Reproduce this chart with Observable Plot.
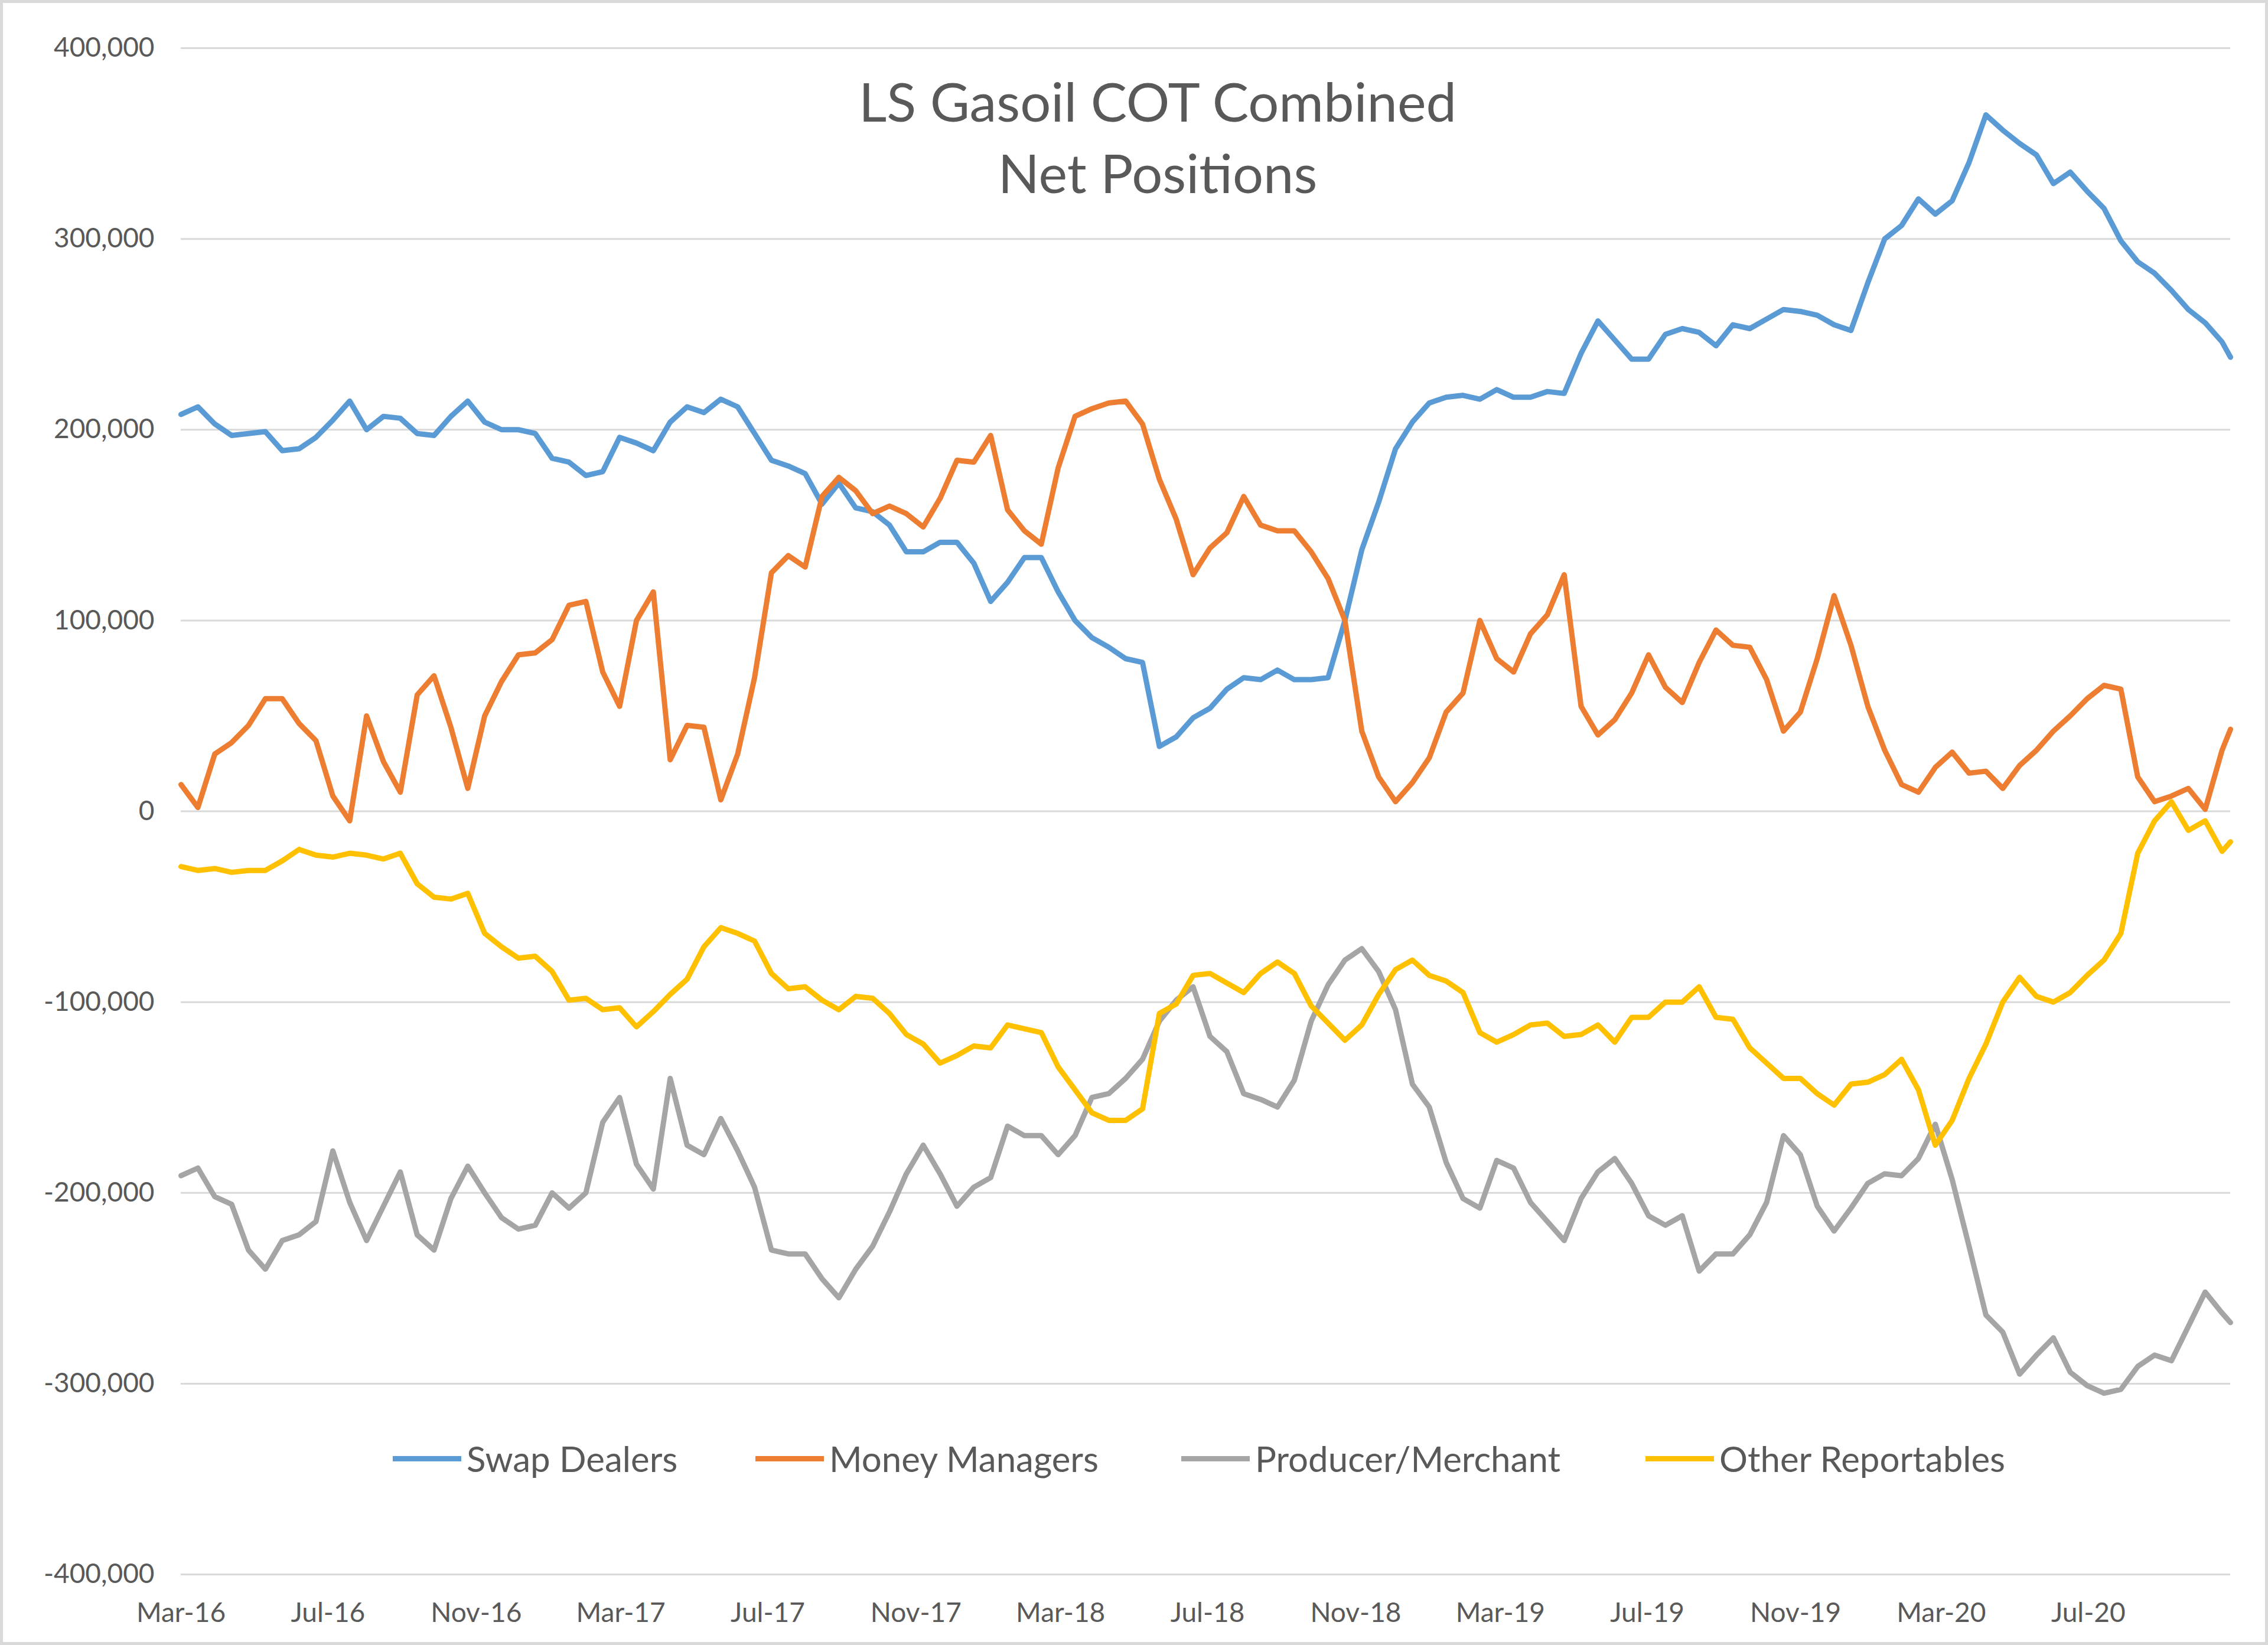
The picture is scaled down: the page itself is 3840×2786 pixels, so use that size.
<!DOCTYPE html>
<html>
<head>
<meta charset="utf-8">
<script src="https://cdn.jsdelivr.net/npm/d3@7"></script>
<script src="https://cdn.jsdelivr.net/npm/@observablehq/plot@0.6"></script>
<style>
html, body { margin: 0; padding: 0; background: #fff; }
#chart { position: relative; width: 3840px; height: 2786px; background: #fff; overflow: hidden; font-family: Lato, "Open Sans", sans-serif; color: #595959; }
#chart svg { position: absolute; left: 0; top: 0; }
#frame { position: absolute; left: 0; top: 0; width: 3840px; height: 2786px; box-sizing: border-box; border: 5px solid #d9d9d9; pointer-events: none; }
#title { position: absolute; left: 1960px; top: 110px; transform: translateX(-50%); font-size: 92px; line-height: 121px; text-align: center; white-space: nowrap; }
.legend-item { position: absolute; top: 2430px; height: 80px; display: flex; align-items: center; font-size: 60px; white-space: nowrap; }
.swatch { width: 116px; height: 9px; margin-right: 9px; }
</style>
</head>
<body>
<div id="chart">
  <div id="title">LS Gasoil COT Combined<br>Net Positions</div>
  <div id="frame"></div>
</div>
<script>
// ---- data (net positions, thousands of lots), bi-weekly report dates ----
const START = new Date(Date.UTC(2016, 2, 1));
const END = new Date(Date.UTC(2020, 9, 27));
const dates = d3.range(122).map(i => d3.utcDay.offset(START, 14 * i));
dates.push(END);

const seriesNames = ["Swap Dealers", "Money Managers", "Producer/Merchant", "Other Reportables"];
const seriesColors = ["#5B9BD5", "#ED7D31", "#A5A5A5", "#FFC000"];

const swapDealers = [
  208,212,203,197,198,199,189,190,196,205,
  215,200,207,206,198,197,207,215,204,200,
  200,198,185,183,176,178,196,193,189,204,
  212,209,216,212,198,184,181,177,161,172,
  159,157,150,136,136,141,141,130,110,120,
  133,133,115,100,91,86,80,78,34,39,
  49,54,64,70,69,74,69,69,70,100,
  137,162,190,204,214,217,218,216,221,217,
  217,220,219,240,257,247,237,237,250,253,
  251,244,255,253,258,263,262,260,255,252,
  277,300,307,321,313,320,340,365,357,350,
  344,329,335,325,316,299,288,282,273,263,
  256,246,238
];
const moneyManagers = [
  14,2,30,36,45,59,59,46,37,8,
  -5,50,26,10,61,71,44,12,50,68,
  82,83,90,108,110,73,55,100,115,27,
  45,44,6,30,70,125,134,128,165,175,
  168,156,160,156,149,164,184,183,197,158,
  147,140,180,207,211,214,215,203,174,153,
  124,138,146,165,150,147,147,136,122,100,
  42,18,5,15,28,52,62,100,80,73,
  93,103,124,55,40,48,62,82,65,57,
  78,95,87,86,69,42,52,80,113,87,
  55,32,14,10,23,31,20,21,12,24,
  32,42,50,59,66,64,18,5,8,12,
  1,32,43
];
const producerMerchant = [
  -191,-187,-202,-206,-230,-240,-225,-222,-215,-178,
  -205,-225,-207,-189,-222,-230,-203,-186,-200,-213,
  -219,-217,-200,-208,-200,-163,-150,-185,-198,-140,
  -175,-180,-161,-178,-197,-230,-232,-232,-245,-255,
  -240,-228,-210,-190,-175,-190,-207,-197,-192,-165,
  -170,-170,-180,-170,-150,-148,-140,-130,-110,-99,
  -92,-118,-126,-148,-151,-155,-141,-110,-91,-78,
  -72,-84,-104,-143,-155,-184,-203,-208,-183,-187,
  -205,-215,-225,-203,-189,-182,-195,-212,-217,-212,
  -241,-232,-232,-222,-205,-170,-180,-207,-220,-208,
  -195,-190,-191,-182,-164,-193,-228,-264,-273,-295,
  -285,-276,-294,-301,-305,-303,-291,-285,-288,-270,
  -252,-263,-268
];
const otherReportables = [
  -29,-31,-30,-32,-31,-31,-26,-20,-23,-24,
  -22,-23,-25,-22,-38,-45,-46,-43,-64,-71,
  -77,-76,-84,-99,-98,-104,-103,-113,-105,-96,
  -88,-71,-61,-64,-68,-85,-93,-92,-99,-104,
  -97,-98,-106,-117,-122,-132,-128,-123,-124,-112,
  -114,-116,-134,-146,-158,-162,-162,-156,-106,-101,
  -86,-85,-90,-95,-85,-79,-85,-102,-111,-120,
  -112,-96,-83,-78,-86,-89,-95,-116,-121,-117,
  -112,-111,-118,-117,-112,-121,-108,-108,-100,-100,
  -92,-108,-109,-124,-132,-140,-140,-148,-154,-143,
  -142,-138,-130,-146,-175,-162,-140,-122,-100,-87,
  -97,-100,-95,-86,-78,-64,-22,-5,5,-10,
  -5,-21,-16
];

const xTicks = ["2016-03-01","2016-07-01","2016-11-01","2017-03-01","2017-07-01","2017-11-01",
  "2018-03-01","2018-07-01","2018-11-01","2019-03-01","2019-07-01","2019-11-01","2020-03-01","2020-07-01"]
  .map(s => new Date(s + "T00:00:00Z"));
const yTicks = [-400000,-300000,-200000,-100000,0,100000,200000,300000,400000];

// ---- table for the library ----
const allSeries = [swapDealers, moneyManagers, producerMerchant, otherReportables];
const rows = [];
allSeries.forEach((vals, s) => {
  vals.forEach((v, i) => rows.push({date: dates[i], value: v * 1000, series: seriesNames[s]}));
});

const chart = Plot.plot({
  width: 3840,
  height: 2786,
  marginLeft: 306,
  marginRight: 64,
  marginTop: 81,
  marginBottom: 120,
  style: {fontFamily: "Lato, 'Open Sans', sans-serif", fontSize: "46px", color: "#595959", background: "transparent", overflow: "visible"},
  x: {type: "utc", domain: [START, END]},
  y: {domain: [-400000, 400000]},
  color: {domain: seriesNames, range: seriesColors},
  marks: [
    Plot.gridY(yTicks, {stroke: "#d9d9d9", strokeOpacity: 1, strokeWidth: 3}),
    Plot.axisY(yTicks, {tickSize: 0, tickPadding: 45, tickFormat: d => d.toLocaleString("en-US"), label: null, fill: "#595959"}),
    Plot.axisX(xTicks, {tickSize: 0, tickPadding: 48, tickFormat: d3.utcFormat("%b-%y"), label: null, fill: "#595959"}),
    Plot.line(rows, {x: "date", y: "value", z: "series", stroke: "series", strokeWidth: 9, strokeLinejoin: "round", strokeLinecap: "round"})
  ]
});

const host = document.getElementById("chart");
host.insertBefore(chart, host.firstChild);

// ---- legend ----
const legendLefts = [665, 1279, 2000, 2786];
seriesNames.forEach((name, i) => {
  const item = document.createElement("div");
  item.className = "legend-item";
  item.style.left = legendLefts[i] + "px";
  const sw = document.createElement("div");
  sw.className = "swatch";
  sw.style.background = seriesColors[i];
  const tx = document.createElement("span");
  tx.textContent = name;
  item.appendChild(sw);
  item.appendChild(tx);
  host.appendChild(item);
});
</script>
</body>
</html>
